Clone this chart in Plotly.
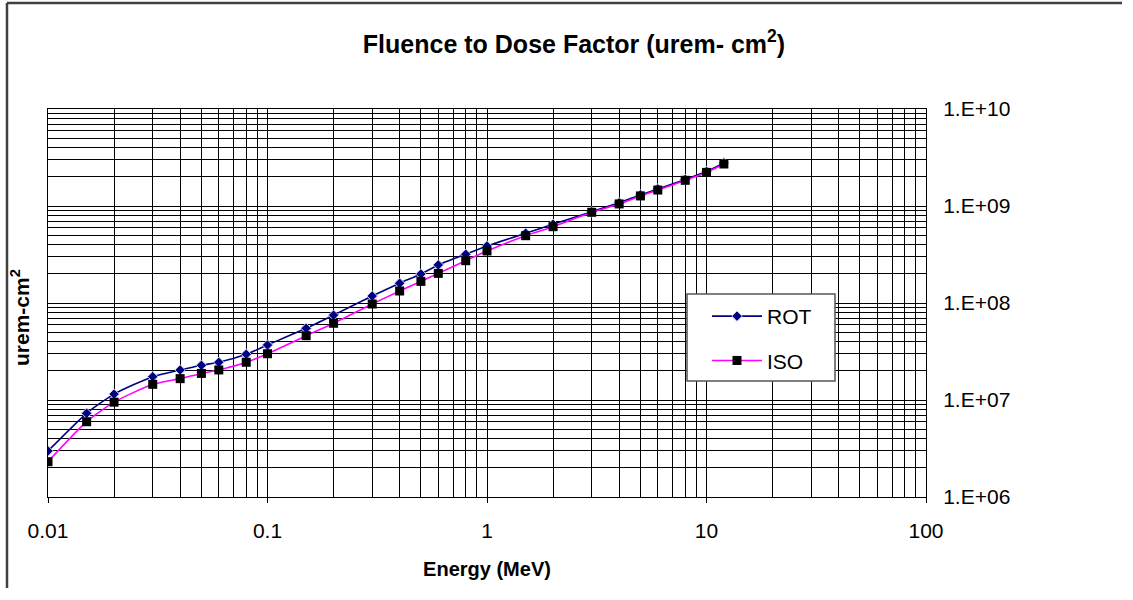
import plotly.graph_objects as go

energy = [0.01, 0.015, 0.02, 0.03, 0.04, 0.05, 0.06, 0.08, 0.1, 0.15, 0.2, 0.3,
          0.4, 0.5, 0.6, 0.8, 1, 1.5, 2, 3, 4, 5, 6, 8, 10, 12]
rot = [2.98e6, 7.3e6, 1.15e7, 1.74e7, 2.04e7, 2.28e7, 2.45e7, 2.96e7, 3.69e7, 5.48e7,
       7.5e7, 1.18e8, 1.60e8, 1.99e8, 2.47e8, 3.18e8, 3.87e8, 5.24e8, 6.48e8, 8.73e8,
       1.08e9, 1.30e9, 1.50e9, 1.88e9, 2.27e9, 2.78e9]
iso = [2.31e6, 5.97e6, 9.5e6, 1.45e7, 1.66e7, 1.88e7, 2.04e7, 2.45e7, 3.0e7, 4.6e7,
       6.18e7, 9.77e7, 1.33e8, 1.67e8, 2.02e8, 2.73e8, 3.44e8, 4.94e8, 6.12e8, 8.61e8,
       1.05e9, 1.27e9, 1.46e9, 1.84e9, 2.22e9, 2.71e9]

x_tickvals = [0.01, 0.1, 1, 10, 100]
x_ticktext = ["0.01", "0.1", "1", "10", "100"]
y_tickvals = [1e6, 1e7, 1e8, 1e9, 1e10]
y_ticktext = ["1.E+06", "1.E+07", "1.E+08", "1.E+09", "1.E+10"]

FONT = "Liberation Sans, Arial, sans-serif"

x_minor = [m * 10 ** e for e in range(-2, 2) for m in range(2, 10)]
y_minor = [m * 10 ** e for e in range(6, 10) for m in range(2, 10)]

W, H = 1133, 600
L, R, T, B = 48, 207, 109, 103
PW, PH = W - L - R, H - T - B


def px(xp):
    return (xp - L) / PW


def py(yp):
    return (H - B - yp) / PH


fig = go.Figure()
fig.add_trace(go.Scatter(
    x=energy, y=rot, name="ROT", mode="lines+markers", legendgroup="a",
    line=dict(color="#000080", width=1.6, shape="spline", smoothing=0.6),
    marker=dict(symbol="diamond", size=8, color="#000080",
                line=dict(color="#c8c8f0", width=1)),
))
fig.add_trace(go.Scatter(
    x=energy, y=iso, name="ISO", mode="lines+markers", legendgroup="b",
    line=dict(color="#ff00ff", width=1.6, shape="spline", smoothing=0.6),
    marker=dict(symbol="square", size=9, color="#000000",
                line=dict(color="#000000", width=0)),
))

fig.update_layout(
    width=W, height=H,
    margin=dict(l=L, r=R, t=T, b=B),
    paper_bgcolor="white", plot_bgcolor="white",
    font=dict(family=FONT, size=21, color="#000"),
    title=dict(text="Fluence to Dose Factor (urem- cm<sup>2</sup>)",
               x=574 / W, xanchor="center", y=1 - 44 / H, yanchor="middle",
               font=dict(size=25, weight="bold", family=FONT)),
    showlegend=True,
    legend=dict(x=px(707), y=py(296), xanchor="left", yanchor="top",
                bgcolor="rgba(0,0,0,0)", borderwidth=0,
                font=dict(size=21, family=FONT), tracegroupgap=14,
                itemwidth=50),
    shapes=[
        # outer chart border (left and top edges visible)
        dict(type="line", xref="paper", yref="paper",
             x0=px(7), x1=px(7), y0=py(3), y1=py(588),
             line=dict(color="#404040", width=2.5)),
        dict(type="line", xref="paper", yref="paper",
             x0=px(7), x1=px(1122), y0=py(3), y1=py(3),
             line=dict(color="#404040", width=2.5)),
        # legend box
        dict(type="rect", xref="paper", yref="paper",
             x0=px(687), x1=px(835), y0=py(381), y1=py(294),
             fillcolor="white", line=dict(color="#555", width=1.5), layer="above"),
    ],
    annotations=[
        dict(text="urem-cm<sup>2</sup>", textangle=-90, xref="paper", yref="paper",
             x=px(20), y=py(317), xanchor="center", yanchor="middle",
             showarrow=False, font=dict(size=21, weight="bold", family=FONT)),
    ],
)

fig.update_xaxes(
    type="log", range=[-2, 2],
    tickvals=x_tickvals, ticktext=x_ticktext,
    ticks="outside", ticklen=5, tickcolor="#000",
    showgrid=True, gridcolor="#000", gridwidth=1,
    minor=dict(tickvals=x_minor, showgrid=True, gridcolor="#000", gridwidth=1, ticks=""),
    showline=True, linecolor="#000", linewidth=1, mirror=True,
    ticklabelstandoff=10,
    title=dict(text="Energy (MeV)", font=dict(size=20, weight="bold", family=FONT), standoff=20),
    tickfont=dict(size=21),
)
fig.update_yaxes(
    type="log", range=[6, 10], side="right",
    tickvals=y_tickvals, ticktext=y_ticktext,
    ticks="inside", ticklen=6, tickcolor="#000",
    showgrid=True, gridcolor="#000", gridwidth=1,
    minor=dict(tickvals=y_minor, showgrid=True, gridcolor="#000", gridwidth=1,
               ticks="inside", ticklen=4, tickcolor="#000"),
    showline=True, linecolor="#000", linewidth=1, mirror=True,
    ticklabelstandoff=12,
    tickfont=dict(size=21),
)

fig.write_html("out.html")
